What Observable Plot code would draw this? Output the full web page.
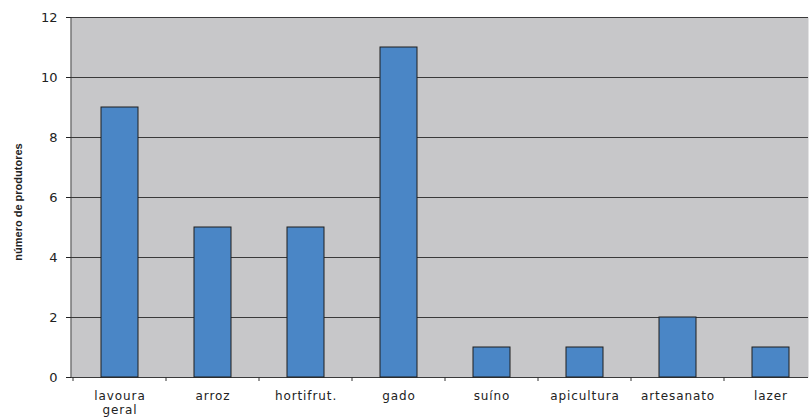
<!DOCTYPE html>
<html>
<head>
<meta charset="utf-8">
<script src="https://cdn.jsdelivr.net/npm/d3@7"></script>
<script src="https://cdn.jsdelivr.net/npm/@observablehq/plot@0.6"></script>
<style>
  html, body { margin: 0; padding: 0; background: #fff; }
</style>
</head>
<body>
<div id="chart"></div>
<script>
const categories = ["lavoura\ngeral", "arroz", "hortifrut.", "gado", "suíno", "apicultura", "artesanato", "lazer"];
const values = [9, 5, 5, 11, 1, 1, 2, 1];
const yTicks = [0, 2, 4, 6, 8, 10, 12];
const yLabel = "número de produtores";

const data = categories.map((c, i) => ({category: c, value: values[i]}));

const W = 809, H = 418;
const mL = 71, mR = 1, mT = 17, mB = 41;
// the category axis runs a little past the right edge of the picture (cropped original)
const xRange = [70.5, 819.5];

// boundary ticks below the x axis, positioned from the band scale
function boundaryTicks(index, scales, values, dimensions) {
  const x = scales.x, y = scales.y;
  const bw = x.bandwidth ? x.bandwidth() : 0;
  const step = x(categories[1]) - x(categories[0]);
  const y0 = y(0);
  const g = d3.create("svg:g").attr("stroke", "#333").attr("stroke-width", 1);
  const centers = categories.map(c => x(c) + bw / 2);
  const bounds = [centers[0] - step / 2, ...centers.map(c => c + step / 2)];
  for (const b of bounds) {
    g.append("line").attr("x1", b).attr("x2", b).attr("y1", y0).attr("y2", y0 + 4);
  }
  g.append("line").attr("x1", dimensions.marginLeft).attr("x2", dimensions.marginLeft)
    .attr("y1", y(yTicks[yTicks.length - 1])).attr("y2", y0);
  return g.node();
}

function yTitle(index, scales, values, dimensions) {
  const cy = (dimensions.marginTop + dimensions.height - dimensions.marginBottom) / 2 + 5;
  const cx = 18;
  return d3.create("svg:text")
    .attr("transform", `translate(${cx},${cy}) rotate(-90)`)
    .attr("text-anchor", "middle")
    .attr("dominant-baseline", "central")
    .attr("font-family", "'Liberation Sans', Arial, sans-serif")
    .attr("font-size", 11)
    .attr("font-weight", "bold")
    .attr("fill", "#222")
    .text(yLabel)
    .node();
}

const chart = Plot.plot({
  width: W,
  height: H,
  marginLeft: mL,
  marginRight: mR,
  marginTop: mT,
  marginBottom: mB,
  style: {fontFamily: "'DejaVu Sans', sans-serif", fontSize: "13px", color: "#222", background: "#fff"},
  x: {domain: categories, range: xRange, paddingInner: 0.6, paddingOuter: 0.3, axis: null},
  y: {domain: [0, 12], ticks: yTicks, tickSize: 5, tickPadding: 9, label: null},
  marks: [
    Plot.frame({fill: "#c7c7c9", stroke: null}),
    Plot.ruleY(yTicks, {stroke: "#3a3a3a", strokeWidth: 1}),
    Plot.barY(data, {x: "category", y: "value", fill: "#4a86c6", stroke: "#1e1e1e", strokeWidth: 1}),
    boundaryTicks,
    Plot.text(data, {x: "category", text: "category", frameAnchor: "bottom", dy: 12, lineAnchor: "top", lineHeight: 1.18, fontSize: 12, fill: "#222"}),
    yTitle
  ]
});

const texts = chart.querySelectorAll('g[aria-label="text"]');
if (texts.length) texts[0].style.letterSpacing = "0.9px";
document.getElementById("chart").appendChild(chart);
</script>
</body>
</html>
